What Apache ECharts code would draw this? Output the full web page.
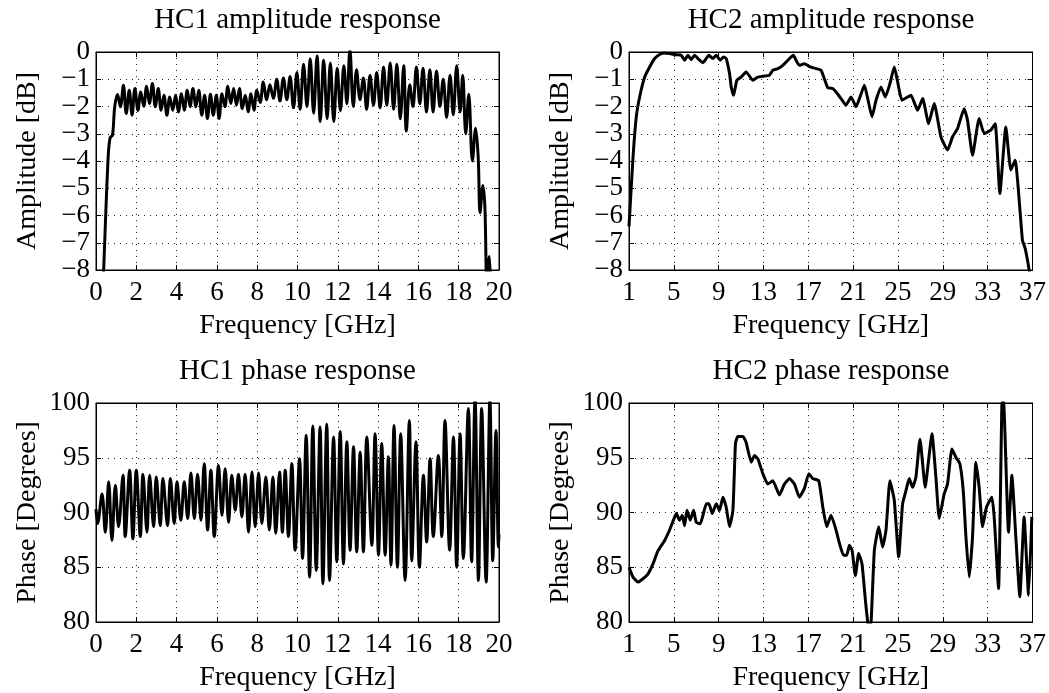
<!DOCTYPE html>
<html><head><meta charset="utf-8">
<script src="https://cdn.jsdelivr.net/npm/echarts@6/dist/echarts.min.js"></script>
<style>html,body{margin:0;padding:0;background:#fff}#c{width:1049px;height:693px}</style>
</head><body><div id="c"></div>
<script>
// ---------- data ----------
const titles = ['HC1 amplitude response', 'HC2 amplitude response', 'HC1 phase response', 'HC2 phase response'];
const xName = 'Frequency [GHz]';
const yNames = ['Amplitude [dB]', 'Amplitude [dB]', 'Phase [Degrees]', 'Phase [Degrees]'];

const hc1FreqTicks = [0, 2, 4, 6, 8, 10, 12, 14, 16, 18, 20];
const hc2FreqTicks = [1, 5, 9, 13, 17, 21, 25, 29, 33, 37];
const ampTicks = [-8, -7, -6, -5, -4, -3, -2, -1, 0];
const phaseTicks = [80, 85, 90, 95, 100];

const hc1Amp = [
  [0.30,-9.5],[0.38,-8.0],[0.60,-3.9],[0.70,-3.15],[0.82,-3.05],[0.93,-2.0],
  [1.07,-1.56],[1.21,-2.01],[1.36,-1.22],[1.50,-2.26],[1.65,-1.40],[1.79,-2.32],[1.93,-1.34],[2.08,-2.14],
  [2.22,-1.47],[2.37,-1.99],[2.51,-1.26],[2.65,-1.89],[2.80,-1.16],[2.94,-2.01],[3.09,-1.34],[3.23,-2.14],
  [3.37,-1.59],[3.52,-2.32],[3.66,-1.65],[3.81,-2.14],[3.95,-1.59],[4.09,-2.20],[4.24,-1.53],[4.38,-2.14],
  [4.53,-1.40],[4.67,-2.01],[4.81,-1.34],[4.96,-2.01],[5.10,-1.40],[5.25,-2.32],[5.39,-1.59],[5.53,-2.44],
  [5.68,-1.55],[5.82,-2.32],[5.97,-1.59],[6.11,-2.44],[6.25,-1.53],[6.40,-2.01],[6.54,-1.26],[6.69,-1.89],
  [6.83,-1.34],[6.97,-1.95],[7.12,-1.34],[7.26,-2.08],[7.41,-1.59],[7.55,-2.20],[7.69,-1.53],[7.84,-2.14],
  [7.98,-1.40],[8.15,-1.85],[8.30,-1.10],[8.47,-1.75],[8.63,-1.20],[8.80,-1.70],[8.97,-1.00],[9.13,-1.80],
  [9.30,-0.95],[9.47,-1.75],[9.63,-0.90],[9.80,-2.05],[9.97,-0.75],[10.13,-2.10],[10.30,-0.45],[10.47,-2.00],
  [10.63,-0.25],[10.80,-2.25],[10.97,-0.15],[11.13,-2.55],[11.30,-0.30],[11.47,-2.45],[11.63,-0.40],[11.80,-2.55],
  [11.97,-0.60],[12.13,-2.15],[12.30,-0.50],[12.45,-1.90],[12.60,0.10],[12.77,-2.00],[12.93,-0.65],[13.10,-1.75],
  [13.27,-0.95],[13.43,-2.10],[13.60,-0.85],[13.77,-1.95],[13.93,-0.75],[14.10,-2.05],[14.27,-0.55],[14.43,-1.95],
  [14.60,-0.40],[14.77,-2.10],[14.93,-0.45],[15.10,-2.45],[15.27,-0.50],[15.40,-2.90],[15.57,-1.20],[15.73,-2.00],
  [15.90,-0.55],[16.07,-1.90],[16.23,-0.60],[16.40,-2.20],[16.57,-0.65],[16.73,-2.20],[16.90,-0.70],[17.07,-2.00],
  [17.23,-1.00],[17.40,-2.40],[17.57,-0.85],[17.73,-2.30],[17.90,-0.50],[18.07,-2.20],[18.20,-0.85],[18.35,-3.00],
  [18.50,-1.55],[18.68,-4.00],[18.84,-2.80],[18.97,-3.90],[19.06,-5.90],[19.20,-4.90],[19.30,-5.70],[19.40,-8.50],
  [19.52,-7.50],[19.58,-8.60]
];

const hc2Amp = [
  [1.0,-6.4],[1.36,-3.85],[1.65,-2.38],[1.95,-1.65],[2.4,-0.92],[2.84,-0.55],[3.29,-0.24],[3.73,-0.09],
  [4.18,-0.04],[4.62,-0.06],[5.22,-0.1],[5.66,-0.12],[5.96,-0.3],[6.26,-0.12],[6.55,-0.28],[6.85,-0.12],
  [7.15,-0.24],[7.6,-0.39],[8.13,-0.12],[8.48,-0.24],[8.78,-0.12],[9.14,-0.3],[9.43,-0.18],[9.67,-0.24],
  [9.97,-0.79],[10.12,-1.28],[10.33,-1.59],[10.62,-1.04],[11.0,-0.92],[11.45,-0.73],[12.05,-1.04],[12.49,-0.92],
  [12.94,-0.89],[13.53,-0.85],[13.83,-0.67],[14.28,-0.61],[14.72,-0.49],[15.32,-0.24],[15.67,-0.12],[15.91,-0.31],
  [16.2,-0.49],[16.65,-0.43],[17.16,-0.55],[17.69,-0.61],[18.14,-0.67],[18.73,-1.31],[19.18,-1.34],[19.47,-1.47],
  [19.92,-1.71],[20.36,-1.95],[20.81,-1.65],[21.26,-2.01],[21.61,-1.65],[22.0,-1.22],[22.3,-1.71],[22.68,-2.38],
  [23.04,-1.77],[23.48,-1.28],[23.87,-1.65],[24.28,-1.16],[24.67,-0.55],[24.97,-1.1],[25.35,-1.77],[25.86,-1.65],
  [26.16,-1.59],[26.75,-2.14],[27.2,-1.71],[27.73,-2.63],[28.23,-1.89],[28.83,-3.11],[29.42,-3.6],[29.87,-3.11],
  [30.31,-2.81],[30.9,-2.08],[31.2,-2.5],[31.65,-3.79],[32.24,-2.44],[32.69,-2.99],[33.28,-2.87],[33.67,-2.63],
  [34.09,-5.19],[34.62,-2.75],[35.07,-4.33],[35.45,-3.97],[36.1,-6.9],[36.34,-7.2],[36.7,-8.0],[36.85,-8.5]
];

const hc1Phase = [
  [0.00,90.3],[0.08,89.0],[0.30,91.7],[0.46,88.2],[0.63,92.8],[0.79,87.45],[0.96,92.5],[1.12,88.7],
  [1.34,93.4],[1.45,87.8],[1.67,93.85],[1.83,87.6],[2.00,93.85],[2.20,87.8],[2.33,93.5],[2.53,88.2],
  [2.66,93.4],[2.86,88.7],[2.99,93.25],[3.19,88.8],[3.32,93.1],[3.55,88.8],[3.69,93.1],[3.88,89.0],
  [4.02,92.8],[4.21,89.3],[4.38,92.8],[4.55,89.45],[4.71,93.6],[4.88,89.45],[5.04,93.5],[5.21,89.3],
  [5.37,94.45],[5.54,88.4],[5.70,93.85],[5.87,87.8],[6.08,94.3],[6.25,89.75],[6.41,94.0],[6.58,89.1],
  [6.74,93.4],[6.91,90.2],[7.07,93.5],[7.24,89.6],[7.40,93.5],[7.57,88.2],[7.74,93.7],[7.90,88.7],
  [8.07,93.6],[8.23,89.0],[8.43,93.25],[8.60,88.4],[8.78,93.25],[8.92,88.1],[9.11,93.7],[9.25,88.2],
  [9.39,93.85],[9.55,87.8],[9.72,94.45],[9.88,86.55],[10.10,94.9],[10.25,85.8],[10.43,97.05],[10.60,84.1],
  [10.76,97.9],[10.93,84.7],[11.12,97.8],[11.26,83.5],[11.45,98.05],[11.59,83.8],[11.79,96.9],[11.95,85.5],
  [12.12,97.4],[12.28,85.3],[12.45,96.45],[12.61,86.55],[12.78,96.0],[12.94,86.4],[13.11,95.5],[13.27,86.4],
  [13.44,96.9],[13.69,87.0],[13.85,97.2],[14.02,86.1],[14.18,96.3],[14.35,86.1],[14.51,95.1],[14.64,85.2],
  [14.79,97.95],[14.96,85.0],[15.12,97.2],[15.34,83.8],[15.55,98.4],[15.67,85.6],[15.88,96.45],[16.05,85.0],
  [16.25,93.4],[16.41,87.3],[16.58,94.9],[16.74,87.8],[16.99,95.2],[17.16,87.8],[17.32,98.4],[17.55,86.55],
  [17.74,96.9],[17.90,85.0],[18.07,97.2],[18.23,85.8],[18.48,99.5],[18.64,85.5],[18.81,100.5],[18.98,83.8],
  [19.14,99.5],[19.36,83.65],[19.55,100.3],[19.69,85.6],[19.85,97.5],[19.97,86.85],[20.00,88.0]
];

const hc2Phase = [
  [1.0,85.0],[1.36,84.1],[1.8,83.65],[2.25,83.95],[2.7,84.4],[3.14,85.3],[3.58,86.5],[4.18,87.45],
  [4.62,88.4],[5.0,89.4],[5.22,89.9],[5.51,89.3],[5.75,89.75],[5.96,88.8],[6.17,90.2],[6.46,89.3],
  [6.76,90.2],[7.0,89.1],[7.36,88.98],[7.6,89.75],[7.9,90.8],[8.13,90.8],[8.43,89.9],[8.78,90.8],
  [9.08,90.2],[9.38,91.4],[9.67,90.5],[9.97,88.7],[10.27,90.2],[10.5,96.3],[10.71,96.95],[11.16,96.95],
  [11.45,96.4],[11.9,94.6],[12.2,95.2],[12.5,94.9],[12.94,93.55],[13.38,92.6],[13.83,92.9],[14.42,91.6],
  [14.87,92.6],[15.32,93.1],[15.76,92.6],[16.2,91.4],[16.65,92.2],[17.04,93.55],[17.39,93.1],[17.93,92.9],
  [18.29,90.5],[18.64,88.7],[19.03,89.75],[19.47,88.4],[19.77,87.2],[20.13,86.1],[20.43,86.1],[20.66,87.0],
  [20.9,86.55],[21.2,84.25],[21.49,86.25],[21.79,85.3],[22.09,82.0],[22.3,80.0],[22.44,79.5],[22.6,80.0],
  [22.89,86.55],[23.28,88.7],[23.63,86.85],[23.93,88.4],[24.28,92.9],[24.67,91.1],[25.06,85.95],[25.41,90.8],
  [25.71,92.0],[26.0,93.1],[26.3,92.3],[26.6,93.25],[26.96,96.7],[27.43,92.3],[27.73,94.8],[28.03,97.2],
  [28.38,93.25],[28.68,89.45],[29.12,91.7],[29.42,92.6],[29.81,95.8],[30.16,95.05],[30.52,94.45],[30.82,92.0],
  [31.06,87.8],[31.35,84.1],[31.65,87.8],[31.95,94.6],[32.24,92.3],[32.54,88.7],[32.9,90.5],[33.37,91.4],
  [33.58,89.6],[33.97,83.05],[34.27,99.9],[34.41,100.2],[34.86,88.2],[35.16,93.4],[35.51,87.8],[35.87,82.3],
  [36.25,89.6],[36.65,82.45],[36.94,89.6]
];

// ---------- layout ----------
const FONT = 'Liberation Serif';
const rects = [[96, 52, 403, 218], [629, 52, 404, 218], [96, 403, 403, 219], [629, 403, 404, 219]];
const xTicksList = [hc1FreqTicks, hc2FreqTicks, hc1FreqTicks, hc2FreqTicks];
const yTicksList = [ampTicks, ampTicks, phaseTicks, phaseTicks];
const seriesData = [hc1Amp, hc2Amp, hc1Phase, hc2Phase];
const smoothList = [0.35, 0.15, 0.35, 0.15];

const fmt = v => String(v).replace('-', '\u2212');
const grids = [], xAxes = [], yAxes = [], series = [], titleArr = [];

rects.forEach((r, i) => {
  grids.push({ left: r[0], top: r[1], width: r[2], height: r[3], show: true, borderColor: '#000', borderWidth: 1, backgroundColor: 'transparent' });
  const xt = xTicksList[i], yt = yTicksList[i];
  const xr = { min: xt[0], max: xt[xt.length - 1], interval: xt[1] - xt[0] };
  const yr = { min: yt[0], max: yt[yt.length - 1], interval: yt[1] - yt[0] };
  const common = () => ({
    gridIndex: i, type: 'value',
    axisLine: { show: true, onZero: false, lineStyle: { color: '#000', width: 1 } },
    axisTick: { show: true, inside: true, length: 5, lineStyle: { color: '#000' } }
  });
  xAxes.push(Object.assign(common(), xr, {
    position: 'bottom',
    axisLabel: { show: true, margin: 9, color: '#000', fontFamily: FONT, fontSize: 27, formatter: fmt, showMinLabel: true, showMaxLabel: true, hideOverlap: false },
    splitLine: { show: true, lineStyle: { color: '#222', type: [1, 5], width: 1 } },
    name: xName, nameLocation: 'middle', nameGap: 42,
    nameTextStyle: { color: '#000', fontFamily: FONT, fontSize: 28 }
  }));
  xAxes.push(Object.assign(common(), xr, { position: 'top', axisLabel: { show: false }, splitLine: { show: false } }));
  yAxes.push(Object.assign(common(), yr, {
    position: 'left',
    axisLabel: { show: true, margin: 6, color: '#000', fontFamily: FONT, fontSize: 27, formatter: fmt, showMinLabel: true, showMaxLabel: true, hideOverlap: false },
    splitLine: { show: true, lineStyle: { color: '#222', type: [1, 5], width: 1 } },
    name: yNames[i], nameLocation: 'middle', nameGap: 54,
    nameTextStyle: { color: '#000', fontFamily: FONT, fontSize: 28 }
  }));
  yAxes.push(Object.assign(common(), yr, { position: 'right', axisLabel: { show: false }, splitLine: { show: false } }));
  series.push({
    type: 'line', xAxisIndex: i * 2, yAxisIndex: i * 2, data: seriesData[i],
    showSymbol: false, smooth: smoothList[i], clip: true,
    lineStyle: { color: '#000', width: 3 }, animation: false
  });
  titleArr.push({
    text: titles[i], left: r[0] + r[2] / 2, top: r[1] - 46, textAlign: 'center',
    textStyle: { color: '#000', fontFamily: FONT, fontSize: 29, fontWeight: 'normal' }, padding: 0
  });
});

const chart = echarts.init(document.getElementById('c'), null, { renderer: 'canvas' });
chart.setOption({
  animation: false,
  backgroundColor: '#fff',
  title: titleArr,
  grid: grids,
  xAxis: xAxes,
  yAxis: yAxes,
  series: series
});
</script></body></html>
